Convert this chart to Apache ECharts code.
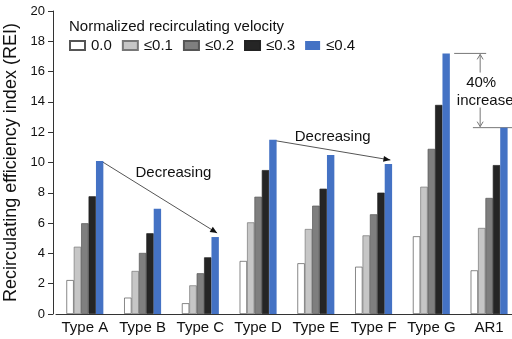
<!DOCTYPE html>
<html lang="en">
<head>
    <meta charset="UTF-8">
    <title>REI chart</title>
    <script src="https://cdn.jsdelivr.net/npm/echarts@6/dist/echarts.min.js"></script>
    <style>
        * { margin: 0; padding: 0; }
        body { background: #fff; }
        #main { width: 512px; height: 339px; }
    </style>
</head>
<body>
    <div id="main"></div>
<script>
    // 数据
    var categories = ['Type A', 'Type B', 'Type C', 'Type D', 'Type E', 'Type F', 'Type G', 'AR1'];
    var seriesNames = ['0.0', '≤0.1', '≤0.2', '≤0.3', '≤0.4'];
    var v00 = [2.24, 1.08, 0.71, 3.50, 3.35, 3.12, 5.13, 2.88];
    var v01 = [4.44, 2.84, 1.89, 6.05, 5.61, 5.19, 8.40, 5.68];
    var v02 = [5.99, 4.03, 2.69, 7.74, 7.15, 6.58, 10.90, 7.66];
    var v03 = [7.77, 5.33, 3.74, 9.50, 8.27, 8.01, 13.80, 9.83];
    var v04 = [10.10, 6.95, 5.08, 11.50, 10.50, 9.90, 17.20, 12.30];
    var yTicks = [0, 2, 4, 6, 8, 10, 12, 14, 16, 18, 20];

    var colors = ['#ffffff', '#c6c6c6', '#7f7f7f', '#252525', '#4472c4'];
    var borders = ['#555', '#777', '#555', '#222', '#4472c4'];
    var values = [v00, v01, v02, v03, v04];
    var catGap = 0.36;

    var myChart = echarts.init(document.getElementById('main'));
    var font = 'Liberation Sans, Arial, sans-serif';

    var series = values.map(function (d, i) {
        return {
            name: seriesNames[i],
            type: 'bar',
            data: d,
            barGap: 0,
            barCategoryGap: (catGap * 100) + '%',
            itemStyle: { color: colors[i], borderColor: borders[i], borderWidth: i === 4 ? 0 : 0.7 },
            animation: false
        };
    });

    var option = {
        animation: false,
        textStyle: { fontFamily: font },
        title: {
            text: 'Normalized recirculating velocity',
            left: 64, top: 14,
            textStyle: { fontSize: 15, fontWeight: 'normal', color: '#111', fontFamily: font }
        },
        legend: {
            data: seriesNames,
            left: 64, top: 33,
            itemWidth: 15, itemHeight: 9, itemGap: 10,
            icon: 'rect',
            textStyle: { fontSize: 15, color: '#111', padding: [0, 0, 0, 1] }
        },
        grid: { left: 56, width: 462, top: 11, bottom: 25, outerBoundsMode: 'none', containLabel: false },
        xAxis: {
            type: 'category',
            data: categories,
            axisLine: { lineStyle: { color: '#333', width: 1 } },
            axisTick: { show: false },
            axisLabel: { color: '#111', fontSize: 15, margin: 6, interval: 0 }
        },
        yAxis: {
            type: 'value',
            min: yTicks[0], max: yTicks[yTicks.length - 1], interval: 2,
            offset: 3,
            name: 'Recirculating efficiency index (REI)',
            nameLocation: 'middle', nameGap: 23,
            nameTextStyle: { fontSize: 18, color: '#111' },
            axisLine: { show: true, lineStyle: { color: '#333' } },
            axisTick: { show: true, length: 5, lineStyle: { color: '#333' } },
            splitLine: { show: false },
            axisLabel: { color: '#111', fontSize: 13, margin: 8 }
        },
        series: series
    };
    myChart.setOption(option);

    // 注释：箭头和文字
    function px(cat, val) {
        return myChart.convertToPixel({ xAxisIndex: 0, yAxisIndex: 0 }, [cat, val]);
    }
    var p0 = px(categories[0], 0), p1 = px(categories[1], 0);
    var band = p1[0] - p0[0];
    var bw = band * (1 - catGap) / 5;
    var blueOff = 2 * bw;

    function arrowHead(x0, y0, x1, y1, len, half, col) {
        var dx = x1 - x0, dy = y1 - y0, l = Math.sqrt(dx * dx + dy * dy);
        var ux = dx / l, uy = dy / l;
        var bx = x1 - ux * len, by = y1 - uy * len;
        return {
            type: 'polygon',
            shape: { points: [[x1, y1], [bx - uy * half, by + ux * half], [bx + uy * half, by - ux * half]] },
            style: { fill: col }
        };
    }
    function arrow(a, b) {
        return [
            { type: 'line', shape: { x1: a[0], y1: a[1], x2: b[0], y2: b[1] }, style: { stroke: '#555', lineWidth: 1 } },
            arrowHead(a[0], a[1], b[0], b[1], 7, 3, '#111')
        ];
    }
    function blueTop(i) {
        var p = px(categories[i], v04[i]);
        return [p[0] + blueOff, p[1]];
    }

    var g = [];
    var a1 = blueTop(0), c1 = blueTop(2);
    g = g.concat(arrow([a1[0] + 3, a1[1] + 1], [c1[0] + 2, c1[1] - 4]));
    var a2 = blueTop(3), c2 = blueTop(5);
    g = g.concat(arrow([a2[0] + 3, a2[1] + 1], [c2[0] + 2, c2[1] - 4]));

    var txt = { fontSize: 15, fill: '#111', fontFamily: font };
    g.push({ type: 'text', x: (a1[0] + c1[0]) / 2 + 16, y: (a1[1] + c1[1]) / 2 - 26,
        style: Object.assign({ text: 'Decreasing', align: 'center', verticalAlign: 'middle' }, txt) });
    g.push({ type: 'text', x: (a2[0] + c2[0]) / 2 + 2, y: (a2[1] + c2[1]) / 2 - 15,
        style: Object.assign({ text: 'Decreasing', align: 'center', verticalAlign: 'middle' }, txt) });

    // 40% increase
    var gt = blueTop(6), rt = blueTop(7);
    var vx = gt[0] + 34;
    var grayLine = { stroke: '#777', lineWidth: 1 };
    g.push({ type: 'line', shape: { x1: gt[0] + 8, y1: gt[1], x2: gt[0] + 40, y2: gt[1] }, style: grayLine });
    g.push({ type: 'line', shape: { x1: rt[0] - 31, y1: rt[1], x2: 512, y2: rt[1] }, style: grayLine });
    var midY = (gt[1] + rt[1]) / 2;
    g.push({ type: 'line', shape: { x1: vx, y1: gt[1] + 1, x2: vx, y2: midY - 18 }, style: grayLine });
    g.push({ type: 'line', shape: { x1: vx, y1: midY + 17, x2: vx, y2: rt[1] - 1 }, style: grayLine });
    g.push({ type: 'polyline', shape: { points: [[vx - 3, gt[1] + 6], [vx, gt[1] + 1], [vx + 3, gt[1] + 6]] }, style: { stroke: '#777', fill: null } });
    g.push({ type: 'polyline', shape: { points: [[vx - 3, rt[1] - 6], [vx, rt[1] - 1], [vx + 3, rt[1] - 6]] }, style: { stroke: '#777', fill: null } });
    g.push({ type: 'text', x: vx + 1, y: midY - 8,
        style: Object.assign({ text: '40%', align: 'center', verticalAlign: 'middle' }, txt) });
    g.push({ type: 'text', x: vx + 5, y: midY + 10,
        style: Object.assign({ text: 'increase', align: 'center', verticalAlign: 'middle' }, txt) });

    myChart.setOption({ graphic: g });
</script>
</body>
</html>
